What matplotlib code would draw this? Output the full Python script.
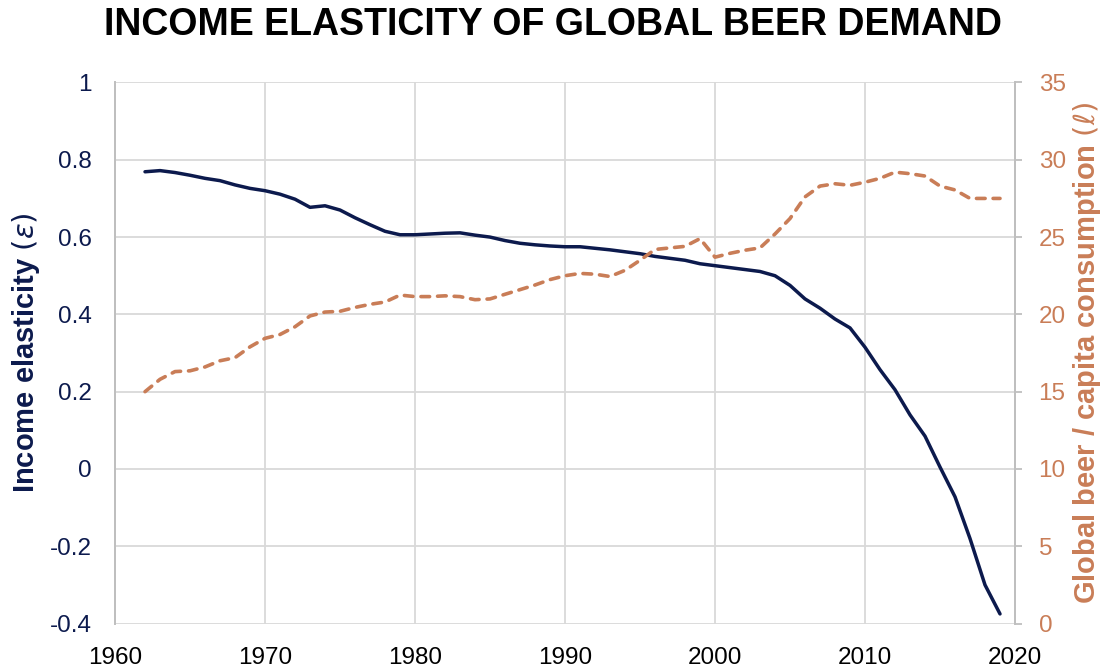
import numpy as np
import matplotlib
matplotlib.use("Agg")
import matplotlib.pyplot as plt

# data
years = list(range(1962, 2020))

elasticity = [0.769, 0.772, 0.767, 0.760, 0.752, 0.746, 0.735, 0.726, 0.720, 0.711,
              0.698, 0.677, 0.681, 0.670, 0.650, 0.632, 0.615, 0.606, 0.606, 0.608,
              0.610, 0.611, 0.605, 0.600, 0.591, 0.584, 0.580, 0.577, 0.575, 0.575,
              0.571, 0.567, 0.562, 0.557, 0.550, 0.545, 0.540, 0.531, 0.526, 0.521,
              0.516, 0.511, 0.500, 0.475, 0.440, 0.416, 0.388, 0.365, 0.315, 0.257,
              0.205, 0.140, 0.085, 0.005, -0.072, -0.180, -0.300, -0.375]

consumption = [15.0, 15.8, 16.3, 16.35, 16.6, 17.0, 17.2, 17.9, 18.45, 18.7,
               19.2, 19.9, 20.15, 20.2, 20.45, 20.65, 20.8, 21.25, 21.15, 21.15,
               21.2, 21.15, 20.95, 21.0, 21.3, 21.6, 21.9, 22.25, 22.5, 22.65,
               22.6, 22.45, 22.85, 23.5, 24.2, 24.3, 24.4, 24.9, 23.7, 23.95,
               24.15, 24.3, 25.2, 26.2, 27.6, 28.3, 28.45, 28.35, 28.55, 28.8,
               29.2, 29.1, 28.95, 28.3, 28.05, 27.5, 27.5, 27.5]

left_ticks = [-0.4, -0.2, 0, 0.2, 0.4, 0.6, 0.8, 1]
left_labels = ["-0.4", "-0.2", "0", "0.2", "0.4", "0.6", "0.8", "1"]
right_ticks = [0, 5, 10, 15, 20, 25, 30, 35]
x_ticks = [1960, 1970, 1980, 1990, 2000, 2010, 2020]

navy = "#0c1a4d"
orange = "#c97d57"
grid = "#d9d9d9"
spine = "#bfbfbf"

plt.rcParams['font.family'] = ['Liberation Sans', 'DejaVu Sans']
plt.rcParams['mathtext.fontset'] = 'dejavusans'

fig = plt.figure(figsize=(11.07, 6.69), dpi=100)
ax = fig.add_axes([0.1039, 0.0679, 0.8130, 0.8088])
ax2 = ax.twinx()

ax.plot(years, elasticity, color=navy, lw=2.5, solid_capstyle='round',
        solid_joinstyle='round', zorder=3)
ax2.plot(years, consumption, color=orange, lw=2.6, dashes=(2.4, 2.2),
         dash_capstyle='round', zorder=3)

ax.set_xlim(1960, 2020)
ax.set_ylim(-0.4, 1)
ax2.set_ylim(0, 35)
ax.set_xticks(x_ticks)
ax.set_yticks(left_ticks)
ax.set_yticklabels(left_labels)
ax2.set_yticks(right_ticks)

ax.grid(True, color=grid, lw=1.3)
ax.set_axisbelow(True)

for a in (ax, ax2):
    a.spines['top'].set_visible(False)
    a.spines['bottom'].set_visible(False)
    a.spines['left'].set_color(spine)
    a.spines['right'].set_color(spine)
    a.spines['left'].set_linewidth(1.3)
    a.spines['right'].set_linewidth(1.3)

ax.tick_params(axis='x', length=0, labelsize=17.5, labelcolor='black', pad=17)
ax.tick_params(axis='y', length=0, labelsize=17.5, labelcolor=navy, pad=17)
ax2.tick_params(axis='y', length=5, width=1.3, color=spine, labelsize=17.5,
                labelcolor=orange, pad=12)

ax.set_ylabel(r"Income elasticity $(\epsilon)$", color=navy, fontsize=21,
              fontweight='bold', labelpad=5)
ax2.set_ylabel(r"Global beer / capita consumption $(\ell)$", color=orange,
               fontsize=21, fontweight='bold', labelpad=4)

fig.suptitle("INCOME ELASTICITY OF GLOBAL BEER DEMAND", fontsize=27,
             fontweight='bold', x=0.5, y=0.99)

fig.savefig("out.png", dpi=100)
